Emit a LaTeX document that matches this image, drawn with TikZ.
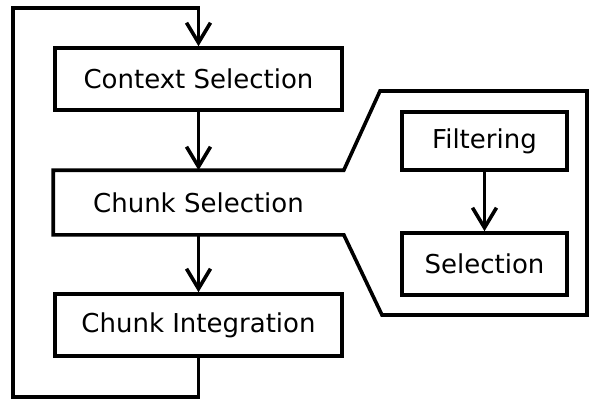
\documentclass[tikz,border=0pt]{standalone}
\usepackage{fontspec}
\setmainfont{DejaVu Sans}
\usetikzlibrary{arrows.meta,positioning,calc}

\begin{document}
\begin{tikzpicture}[x=1pt, y=-1pt, line width=3.6pt,
  stage/.style={draw, rectangle, minimum width=287pt, minimum height=62pt, inner sep=0pt},
  substage/.style={draw, rectangle, minimum width=165pt, minimum height=60pt, inner sep=0pt},
  flow/.style={-{Straight Barb[length=20pt,width=24pt]}, line join=miter}]
\useasboundingbox (0,0) rectangle (591,400);
\fontsize{26}{31}\selectfont
% main pipeline
\node[stage] (ctx) at (198.5,79) {Context Selection};
\node[stage, draw=none, minimum height=61pt] (chunk) at (198.5,202.5) {Chunk Selection};
\node[stage] (integ) at (198.5,325) {Chunk Integration};
% zoomed part of chunk selection
\node[substage, minimum height=58pt] (filt) at (484.5,141) {Filtering};
\node[substage, minimum height=62pt] (sel) at (484.5,264) {Selection};
\draw[line join=miter] (chunk.north east) -- (380,91) -- (587,91) -- (587,315) -- (382,315)
  -- (chunk.south east) -- (chunk.south west) -- (chunk.north west) -- cycle;
\draw[flow] (ctx) -- (chunk);
\draw[flow] (chunk) -- (integ);
\draw[flow] (filt) -- (sel);
% loop back
\coordinate (loopA) at (13,397);
\coordinate (loopB) at (13,8);
\draw[flow] (integ.south) |- (loopA) -- (loopB) -| (ctx.north);
\end{tikzpicture}
\end{document}
